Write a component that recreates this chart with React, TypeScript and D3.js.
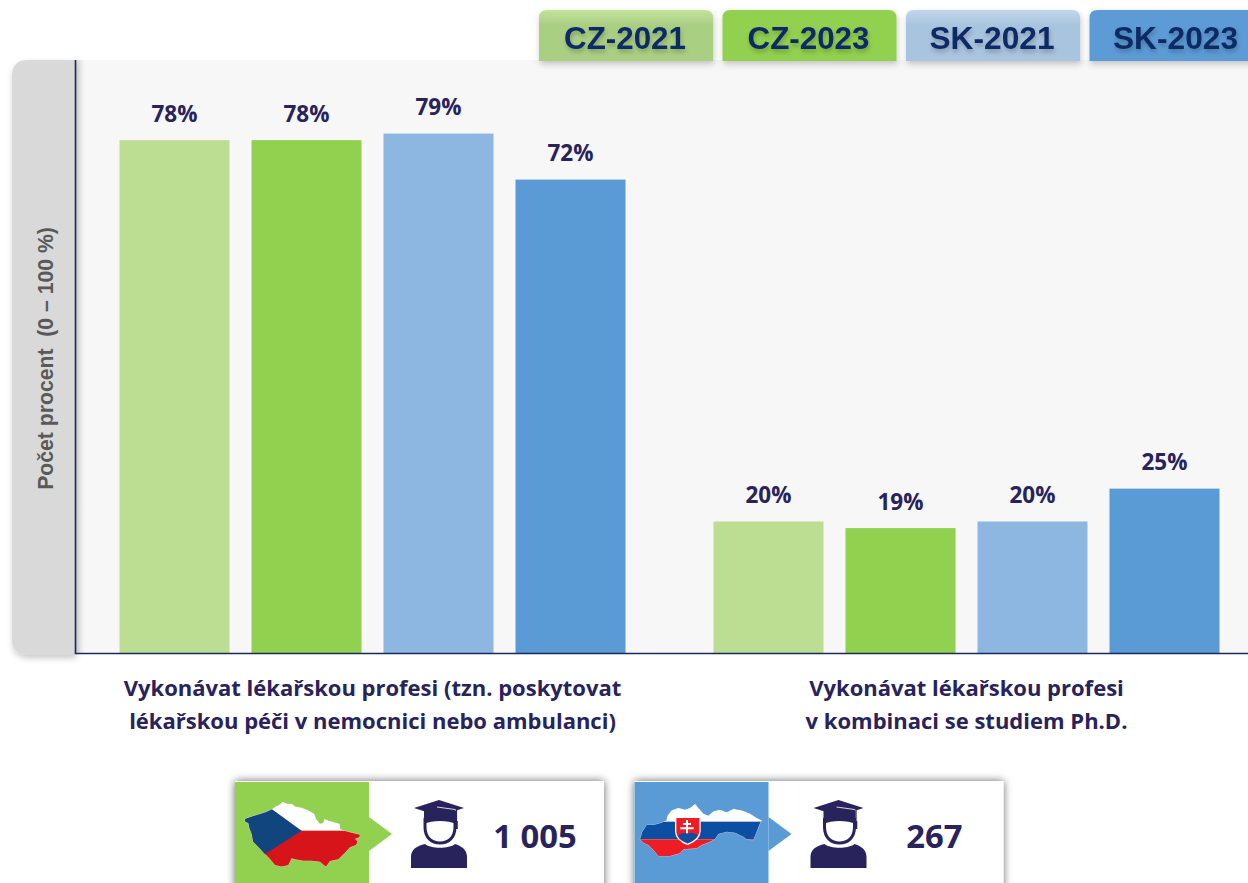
import * as d3 from "d3";
import React from "react";

const groups = ["prace", "phd"];
const seriesNames = ["CZ-2021", "CZ-2023", "SK-2021", "SK-2023"];
const seriesColors = ["#bbde93", "#92d050", "#8db6e1", "#5b9bd5"];
const legendColors = ["#a9cf83", "#92d050", "#a9c4de", "#5b9bd5"];
const praceValues = [78, 78, 79, 72];
const phdValues = [20, 19, 20, 25];
const groupValues = [praceValues, phdValues];
const groupLabels = [
  ["Vykonávat lékařskou profesi (tzn. poskytovat", "lékařskou péči v nemocnici nebo ambulanci)"],
  ["Vykonávat lékařskou profesi", "v kombinaci se studiem Ph.D."],
];
const respondents = ["1 005", "267"];

const width = 1248, height = 883;
const NAVY = "#29235c";

const x0 = d3.scaleBand().domain(groups).range([119.5, 1219.5]).paddingInner(88 / 594).paddingOuter(0);
const x1 = d3.scaleBand().domain(seriesNames).range([0, x0.bandwidth()]).paddingInner(22 / 132).paddingOuter(0);
const y = d3.scaleLinear().domain([0, 100]).range([653, -4.5]);

// map outlines, traced at 3x
const czOutline = "M14 88 L22 84 L40 78 L60 72 L78 66 L96 58 L108 50 L120 44 L128 36 L140 42 L155 42 L165 50 L185 54 L205 62 L222 72 L228 88 L240 102 L250 100 L254 88 L268 94 L285 98 L298 102 L300 118 L312 122 L335 128 L360 134 L358 142 L345 146 L353 155 L348 165 L330 172 L315 188 L295 208 L270 213 L258 230 L240 215 L215 212 L190 212 L165 208 L155 205 L145 225 L125 230 L105 225 L88 205 L75 192 L55 170 L40 155 L35 130 L28 115 L25 100 L16 95 Z";
const skOutline = "M15 148 L22 125 L35 105 L55 105 L75 100 L95 92 L98 78 L110 62 L130 55 L150 60 L165 55 L180 43 L190 55 L205 72 L220 78 L235 65 L255 60 L275 68 L295 58 L320 62 L345 72 L365 85 L380 92 L375 100 L365 125 L355 150 L335 148 L325 140 L300 128 L275 125 L250 132 L240 148 L225 155 L200 165 L185 175 L145 178 L135 190 L105 198 L70 198 L55 180 L40 165 L25 158 Z";

function GradCap({ x, yy }: { x: number; yy: number }) {
  return (
    <g transform={`translate(${x},${yy})`} fill={NAVY}>
      <path d="M0 68 L0 57 C0 49 6 46 14 44 C20 49 38 49 44 44 C50 46 56 49 56 57 L56 68 Z" />
      <path d="M14 18 L14 27 C14 38 21 43 29 43 C37 43 44 38 44 27 L44 18" fill="#fff" stroke={NAVY} strokeWidth={3} />
      <path d="M13 11 L13 24 C21 20 37 20 45 24 L45 11 Z" />
      <path d="M3 8 L28 0 L53 8 L28 16 Z" />
      <path d="M26 7 L44 9.5 L46 11" fill="none" stroke="#fff" strokeWidth={0.8} />
      <path d="M45.5 10 L45.5 22" stroke={NAVY} strokeWidth={1.2} />
      <rect x={44.6} y={21} width={2.2} height={8} />
    </g>
  );
}

export default function App() {
  const labelFont = "'Open Sans', sans-serif";
  return (
    <svg width={width} height={height} style={{ position: "absolute", left: 0, top: 0, background: "#fff" }}>
      <defs>
        <filter id="soft" x="-20%" y="-20%" width="140%" height="140%">
          <feDropShadow dx={1} dy={3} stdDeviation={3} floodColor="#000" floodOpacity={0.22} />
        </filter>
        <filter id="cardShadow" x="-10%" y="-20%" width="120%" height="140%">
          <feDropShadow dx={0} dy={0} stdDeviation={4} floodColor="#000" floodOpacity={0.6} />
        </filter>
        <filter id="textShadow" x="-10%" y="-20%" width="120%" height="150%">
          <feDropShadow dx={1} dy={3} stdDeviation={2} floodColor="#000" floodOpacity={0.22} />
        </filter>
        <linearGradient id="sheenA" x1="0" y1="0" x2="0" y2="1">
          <stop offset="0" stopColor="#c4e29d" />
          <stop offset="0.3" stopColor="#a9cf83" />
          <stop offset="1" stopColor="#a9cf83" />
        </linearGradient>
        <linearGradient id="sheenC" x1="0" y1="0" x2="0" y2="1">
          <stop offset="0" stopColor="#c0d6ec" />
          <stop offset="0.3" stopColor="#a9c4de" />
          <stop offset="1" stopColor="#a9c4de" />
        </linearGradient>
        <linearGradient id="axisFade" x1="0" y1="0" x2="1" y2="0">
          <stop offset="0" stopColor="#000" stopOpacity={0.12} />
          <stop offset="1" stopColor="#000" stopOpacity={0} />
        </linearGradient>
        <clipPath id="czClip"><path d={czOutline} /></clipPath>
        <clipPath id="skClip"><path d={skOutline} /></clipPath>
      </defs>

      {/* plot background */}
      <rect x={28} y={60} width={1220} height={593} fill="#f7f7f7" />
      <path d="M28 60 L75 60 L75 655 L28 655 Q12 655 12 639 L12 76 Q12 60 28 60 Z" fill="#d9d9d9" filter="url(#soft)" />
      <rect x={76} y={60} width={9} height={593} fill="url(#axisFade)" />

      {/* legend */}
      {seriesNames.map((name, i) => {
        const lx = 539 + i * 183.5;
        const fill = i === 0 ? "url(#sheenA)" : i === 2 ? "url(#sheenC)" : legendColors[i];
        return (
          <g key={name}>
            <path
              d={`M${lx} 61 L${lx} 18 Q${lx} 10 ${lx + 8} 10 L${lx + 166} 10 Q${lx + 174} 10 ${lx + 174} 18 L${lx + 174} 61 Z`}
              fill={fill}
              filter="url(#soft)"
            />
            <text
              x={lx + 86}
              y={49}
              textAnchor="middle"
              fontFamily="'Liberation Sans', Arial, sans-serif"
              fontWeight={700}
              fontSize={32}
              fill="#0f2a66"
              textLength={i > 1 ? 125 : 122}
              lengthAdjust="spacingAndGlyphs"
              filter="url(#textShadow)"
            >
              {name}
            </text>
          </g>
        );
      })}

      {/* bars */}
      {groups.map((g, gi) => (
        <g key={g} transform={`translate(${x0(g)},0)`}>
          {seriesNames.map((s, i) => {
            const v = groupValues[gi][i];
            return (
              <g key={s}>
                <rect x={x1(s)} y={y(v)} width={x1.bandwidth()} height={y(0) - y(v)} fill={seriesColors[i]} />
                <text
                  x={(x1(s) as number) + x1.bandwidth() / 2}
                  y={y(v) - 18.5}
                  textAnchor="middle"
                  fontFamily={labelFont}
                  fontWeight={700}
                  fontSize={22.5}
                  fill={NAVY}
                >
                  {v}%
                </text>
              </g>
            );
          })}
          {groupLabels[gi].map((line, li) => (
            <text
              key={line}
              x={x0.bandwidth() / 2}
              y={696 + li * 32.5}
              textAnchor="middle"
              fontFamily={labelFont}
              fontWeight={700}
              fontSize={22}
              fill={NAVY}
            >
              {line}
            </text>
          ))}
        </g>
      ))}

      {/* axes */}
      <path d="M75.5 60 L75.5 653.5 L1248 653.5" fill="none" stroke="#1b2a5e" strokeWidth={1.6} />

      <text
        transform="translate(53,358.5) rotate(-90)"
        textAnchor="middle"
        fontFamily="'Liberation Sans', Arial, sans-serif"
        fontWeight={700}
        fontSize={21.2}
        fill="#595959"
        style={{ whiteSpace: "pre" }}
      >
        {"Počet procent  (0 – 100 %)"}
      </text>

      {/* respondent cards */}
      {respondents.map((n, i) => {
        const cx = 235 + i * 399.5;
        const color = i === 0 ? "#92d050" : "#5b9bd5";
        return (
          <g key={n}>
            <rect x={cx} y={781} width={369} height={120} fill="#fff" filter="url(#cardShadow)" />
            <rect x={cx} y={782} width={134} height={110} fill={color} />
            <path d={`M${cx + 134} 817 L${cx + 157} 834 L${cx + 134} 851 Z`} fill={color} />
            <GradCap x={cx + 176} yy={800} />
            <text
              x={cx + 300}
              y={848}
              textAnchor="middle"
              fontFamily={labelFont}
              fontWeight={700}
              fontSize={32.8}
              fill={NAVY}
            >
              {n}
            </text>
          </g>
        );
      })}

      {/* CZ map */}
      <g transform="translate(240,790) scale(0.3333)">
        <path d={czOutline} fill="#fff" stroke="#cfd8c4" strokeWidth={2} />
        <g clipPath="url(#czClip)">
          <rect x={0} y={0} width={380} height={122} fill="#fff" />
          <rect x={0} y={122} width={380} height={120} fill="#d7141a" />
          <path d="M0 30 L54 30 L96 58 L185 122 L75 192 L0 240 Z" fill="#11457e" />
        </g>
      </g>

      {/* SK map */}
      <g transform="translate(635,790) scale(0.3333)">
        <path d={skOutline} fill="#fff" stroke="#fff" strokeWidth={1} />
        <g clipPath="url(#skClip)">
          <rect x={0} y={30} width={390} height={65} fill="#fff" />
          <rect x={0} y={95} width={390} height={53} fill="#0b4ea2" />
          <rect x={0} y={148} width={390} height={60} fill="#ee1c25" />
        </g>
        <path d="M122 82 L195 82 L195 125 Q193 150 158 163 Q123 150 122 125 Z" fill="#ee1c25" stroke="#fff" strokeWidth={4} />
        <path d="M128 138 Q142 124 158 131 Q175 124 189 136 Q180 152 158 160 Q138 152 128 138 Z" fill="#0b4ea2" />
        <path d="M156 90 L156 130 M144 102 L168 102 M136 115 L176 115" stroke="#fff" strokeWidth={6} fill="none" />
      </g>
    </svg>
  );
}
